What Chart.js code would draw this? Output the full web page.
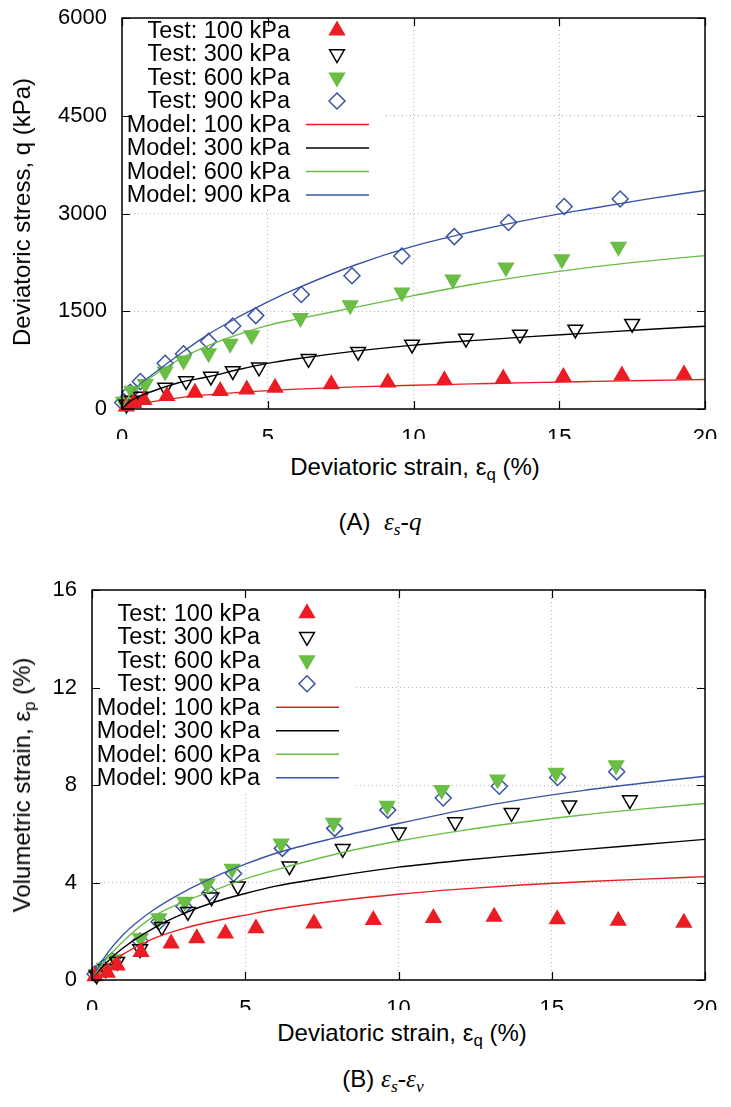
<!DOCTYPE html>
<html>
<head>
<meta charset="utf-8">
<script src="https://cdn.jsdelivr.net/npm/chart.js@4/dist/chart.umd.min.js"></script>
<style>
body { margin: 0; background: #fff; width: 731px; height: 1107px; position: relative; overflow: hidden;
       font-family: "Liberation Sans", Arial, sans-serif; color: #000; }
canvas { position: absolute; left: 0; }
#chartA { top: 0; }
#chartB { top: 560px; }
.lbl { position: absolute; font-size: 24px; white-space: nowrap; transform: translate(-50%, -50%); }
.ytitle { transform: translate(-50%, -50%) rotate(-90deg); }
.cap { position: absolute; font-size: 24px; white-space: nowrap; transform: translate(-50%, -50%); }
.cap i { font-family: "Liberation Serif", "Times New Roman", serif; font-size: 25px; }
sub { font-size: 70%; vertical-align: -0.3em; line-height: 0; }
</style>
</head>
<body>
<canvas id="chartA" width="731" height="450"></canvas>
<canvas id="chartB" width="731" height="450"></canvas>

<div class="lbl ytitle" style="left:22px; top:212px">Deviatoric stress, q (kPa)</div>
<div class="lbl" style="left:415px; top:467px">Deviatoric strain, ε<sub>q</sub> (%)</div>
<div class="cap" style="left:380px; top:522px">(A)&nbsp; <i>ε<sub>s</sub>-q</i></div>

<div class="lbl ytitle" style="left:22px; top:785px">Volumetric strain, ε<sub>p</sub> (%)</div>
<div class="lbl" style="left:402px; top:1033px">Deviatoric strain, ε<sub>q</sub> (%)</div>
<div class="cap" style="left:383px; top:1079px">(B)&nbsp;<i>ε<sub>s</sub>-ε<sub>v</sub></i></div>

<script>
// ---- data ----
const pressures = ['100 kPa', '300 kPa', '600 kPa', '900 kPa'];
const strainTicks = [0, 5, 10, 15, 20];
const stressTicks = [0, 1500, 3000, 4500, 6000];
const volTicks = [0, 4, 8, 12, 16];

// (A) test points: deviatoric strain (%) / q (kPa)
const testA100Eps = [0.15, 0.4, 0.75, 1.54, 2.5, 3.37, 4.28, 5.25, 7.18, 9.12, 11.06, 13.08, 15.14, 17.15, 19.28];
const testA100Q = [40, 90, 140, 200, 250, 275, 300, 325, 378, 405, 440, 467, 492, 513, 530];
const testA300Eps = [0.15, 0.35, 0.65, 1.48, 2.2, 3.05, 3.8, 4.7, 6.4, 8.1, 9.95, 11.8, 13.65, 15.55, 17.5];
const testA300Q = [70, 130, 190, 330, 430, 500, 585, 640, 770, 880, 990, 1080, 1145, 1220, 1310];
const testA600Eps = [0.05, 0.34, 0.8, 1.48, 2.11, 2.97, 3.71, 4.45, 6.12, 7.83, 9.6, 11.35, 13.17, 15.09, 17.03];
const testA600Q = [110, 280, 385, 575, 745, 857, 1002, 1130, 1397, 1592, 1788, 1988, 2173, 2297, 2491];
const testA900Eps = [0.02, 0.28, 0.63, 1.48, 2.11, 2.97, 3.8, 4.59, 6.15, 7.89, 9.6, 11.4, 13.26, 15.17, 17.09];
const testA900Q = [100, 256, 421, 703, 848, 1037, 1273, 1433, 1757, 2044, 2348, 2645, 2861, 3107, 3222];

// model curves, sampled at these strains
const modelEps = [0, 0.25, 0.5, 1, 2, 3, 4, 5, 6, 8, 10, 12, 14, 16, 18, 20];
const modelA100Q = [0, 35, 65, 110, 175, 220, 255, 282, 305, 340, 365, 385, 405, 422, 438, 452];
const modelA300Q = [0, 110, 175, 265, 410, 498, 606, 700, 771, 888, 980, 1050, 1110, 1165, 1220, 1270];
const modelA600Q = [0, 200, 320, 487, 771, 980, 1145, 1284, 1380, 1560, 1740, 1910, 2050, 2170, 2270, 2353];
const modelA900Q = [0, 200, 330, 513, 848, 1156, 1412, 1644, 1850, 2210, 2500, 2720, 2910, 3070, 3220, 3354];

// (B) test points: deviatoric strain (%) / volumetric strain (%)
const testB100Eps = [0.1, 0.5, 0.82, 1.6, 2.58, 3.42, 4.35, 5.35, 7.24, 9.18, 11.14, 13.12, 15.18, 17.17, 19.31];
const testB100V = [0.15, 0.3, 0.6, 1.15, 1.5, 1.71, 1.91, 2.12, 2.32, 2.46, 2.54, 2.6, 2.49, 2.43, 2.35];
const testB300Eps = [0.15, 0.45, 0.82, 1.57, 2.28, 3.13, 3.9, 4.76, 6.44, 8.18, 10.01, 11.85, 13.69, 15.57, 17.55];
const testB300V = [0.2, 0.45, 0.75, 1.27, 2.18, 2.8, 3.4, 3.85, 4.67, 5.38, 6.06, 6.48, 6.86, 7.17, 7.38];
const testB600Eps = [0.15, 0.4, 0.75, 1.58, 2.18, 3.03, 3.76, 4.57, 6.17, 7.88, 9.63, 11.41, 13.23, 15.14, 17.1];
const testB600V = [0.25, 0.5, 0.85, 1.71, 2.53, 3.21, 3.96, 4.56, 5.6, 6.45, 7.15, 7.8, 8.23, 8.5, 8.81];
const testB900Eps = [0.1, 0.35, 0.65, 1.57, 2.19, 3.0, 3.84, 4.62, 6.21, 7.92, 9.65, 11.46, 13.29, 15.19, 17.12];
const testB900V = [0.25, 0.5, 0.8, 1.6, 2.39, 3.02, 3.57, 4.37, 5.4, 6.22, 6.97, 7.47, 7.95, 8.31, 8.54];

const modelB100V = [0, 0.35, 0.6, 1.05, 1.7, 2.12, 2.42, 2.66, 2.9, 3.25, 3.52, 3.73, 3.9, 4.03, 4.14, 4.24];
const modelB300V = [0, 0.4, 0.75, 1.3, 2.12, 2.73, 3.2, 3.55, 3.85, 4.27, 4.63, 4.9, 5.13, 5.35, 5.56, 5.77];
const modelB600V = [0, 0.5, 0.9, 1.57, 2.6, 3.21, 3.69, 4.15, 4.52, 5.18, 5.7, 6.12, 6.47, 6.77, 7.02, 7.24];
const modelB900V = [0, 0.6, 1.1, 1.84, 2.87, 3.62, 4.23, 4.75, 5.2, 5.85, 6.42, 6.95, 7.4, 7.77, 8.08, 8.36];

// ---- styling ----
const FONT = '"Liberation Sans", Arial, sans-serif';
const RED = '#ec1c24', BLACK = '#000000', GREEN = '#6abd45', BLUE = '#3a54a5';
const NONE = 'rgba(0,0,0,0)';
const markers = [
  { style: 'triangle', rot: 0, fill: RED, stroke: RED },
  { style: 'triangle', rot: 180, fill: NONE, stroke: BLACK },
  { style: 'triangle', rot: 180, fill: GREEN, stroke: GREEN },
  { style: 'rectRot', rot: 0, fill: NONE, stroke: BLUE }
];
const lineColors = [RED, BLACK, GREEN, BLUE];

function toPoints(xs, ys) {
  return xs.map((x, i) => ({ x: x, y: ys[i] }));
}

function buildDatasets(testX, testY, modelY) {
  const sets = [];
  testX.forEach((xs, i) => {
    const m = markers[i];
    sets.push({
      label: 'Test: ' + pressures[i],
      data: toPoints(xs, testY[i]),
      showLine: false,
      pointStyle: m.style,
      rotation: m.rot,
      pointRadius: m.style === 'rectRot' ? 8 : 8.5,
      pointBackgroundColor: m.fill,
      pointBorderColor: m.stroke,
      pointBorderWidth: 1.5,
      clip: false,
      order: 1,
      kind: 'test'
    });
  });
  modelY.forEach((ys, i) => {
    sets.push({
      label: 'Model: ' + pressures[i],
      data: toPoints(modelEps, ys),
      showLine: true,
      borderColor: lineColors[i],
      borderWidth: 1.4,
      pointRadius: 0,
      cubicInterpolationMode: 'monotone',
      order: 0,
      kind: 'model'
    });
  });
  return sets;
}

function drawMarker(ctx, m, x, y, r) {
  ctx.save();
  ctx.fillStyle = m.fill;
  ctx.strokeStyle = m.stroke;
  ctx.lineWidth = 1.5;
  ctx.beginPath();
  if (m.style === 'triangle') {
    let a = m.rot * Math.PI / 180;
    for (let k = 0; k < 3; k++) {
      const px = x + Math.sin(a) * r, py = y - Math.cos(a) * r;
      if (k === 0) ctx.moveTo(px, py); else ctx.lineTo(px, py);
      a += 2 * Math.PI / 3;
    }
  } else {
    ctx.moveTo(x, y - r); ctx.lineTo(x + r, y); ctx.lineTo(x, y + r); ctx.lineTo(x - r, y);
  }
  ctx.closePath();
  ctx.fill();
  ctx.stroke();
  ctx.restore();
}

// legend box, inward ticks and frame in the gnuplot manner
const framePlugin = {
  id: 'framePlugin',
  afterDraw(chart, args, opts) {
    const ctx = chart.ctx;
    const a = chart.chartArea;
    const rowCount = chart.data.datasets.length;

    ctx.save();
    ctx.fillStyle = '#fff';
    ctx.fillRect(a.left + 1, a.top + 1, 260, opts.firstRow + (rowCount - 1) * opts.step + 12);

    ctx.font = '23.5px ' + FONT;
    ctx.textAlign = 'right';
    ctx.textBaseline = 'middle';
    ctx.fillStyle = '#000';
    chart.data.datasets.forEach((ds, i) => {
      const y = a.top + opts.firstRow + i * opts.step;
      ctx.fillText(ds.label, a.left + 168, y + 1);
      if (ds.kind === 'test') {
        drawMarker(ctx, markers[i], a.left + 215, y, ds.pointRadius);
      } else {
        ctx.strokeStyle = ds.borderColor;
        ctx.lineWidth = 1.4;
        ctx.beginPath();
        ctx.moveTo(a.left + 184, y);
        ctx.lineTo(a.left + 247, y);
        ctx.stroke();
      }
    });

    ctx.strokeStyle = '#000';
    ctx.lineWidth = 1.2;
    ctx.beginPath();
    const xs = chart.scales.x, ys = chart.scales.y;
    xs.ticks.forEach(t => {
      const px = Math.round(xs.getPixelForValue(t.value)) + 0.5;
      ctx.moveTo(px, a.bottom); ctx.lineTo(px, a.bottom - 8);
      ctx.moveTo(px, a.top); ctx.lineTo(px, a.top + 8);
    });
    ys.ticks.forEach(t => {
      const py = Math.round(ys.getPixelForValue(t.value)) + 0.5;
      ctx.moveTo(a.left, py); ctx.lineTo(a.left + 8, py);
      ctx.moveTo(a.right, py); ctx.lineTo(a.right - 8, py);
    });
    ctx.stroke();
    ctx.lineWidth = 1.5;
    ctx.strokeRect(a.left, a.top, a.right - a.left, a.bottom - a.top);
    ctx.restore();
  }
};

function makeChart(id, datasets, yTicks, yAxisWidth, pad, legendFirstRow) {
  const yMax = yTicks[yTicks.length - 1];
  return new Chart(document.getElementById(id), {
    type: 'scatter',
    data: { datasets: datasets },
    options: {
      responsive: false,
      animation: false,
      layout: { padding: pad },
      plugins: {
        legend: { display: false },
        tooltip: { enabled: false },
        framePlugin: { firstRow: legendFirstRow, step: 23.5 }
      },
      scales: {
        x: {
          type: 'linear',
          min: strainTicks[0],
          max: strainTicks[strainTicks.length - 1],
          afterBuildTicks: s => { s.ticks = strainTicks.map(v => ({ value: v })); },
          afterFit: s => { s.height = 30; },
          ticks: { color: '#000', font: { size: 22, family: FONT }, padding: 2, maxRotation: 0,
                   callback: v => String(v) },
          // invisible outward ticks only push the labels away from the frame
          grid: { color: '#b4b4b4', lineWidth: 1, drawTicks: true, tickLength: 14, tickColor: NONE },
          border: { display: false, dash: [1, 3] }
        },
        y: {
          type: 'linear',
          min: yTicks[0],
          max: yMax,
          afterBuildTicks: s => { s.ticks = yTicks.map(v => ({ value: v })); },
          afterFit: s => { s.width = yAxisWidth; },
          ticks: { color: '#000', font: { size: 22, family: FONT }, padding: 2,
                   callback: v => String(v) },
          grid: { color: '#b4b4b4', lineWidth: 1, drawTicks: true, tickLength: 13, tickColor: NONE },
          border: { display: false, dash: [1, 3] }
        }
      }
    },
    plugins: [framePlugin]
  });
}

makeChart('chartA',
  buildDatasets(
    [testA100Eps, testA300Eps, testA600Eps, testA900Eps],
    [testA100Q, testA300Q, testA600Q, testA900Q],
    [modelA100Q, modelA300Q, modelA600Q, modelA900Q]),
  stressTicks, 122, { left: 0, right: 26, top: 18, bottom: 11 }, 12.5);

makeChart('chartB',
  buildDatasets(
    [testB100Eps, testB300Eps, testB600Eps, testB900Eps],
    [testB100V, testB300V, testB600V, testB900V],
    [modelB100V, modelB300V, modelB600V, modelB900V]),
  volTicks, 92, { left: 0, right: 26, top: 30, bottom: 0 }, 23.3);
</script>
</body>
</html>
